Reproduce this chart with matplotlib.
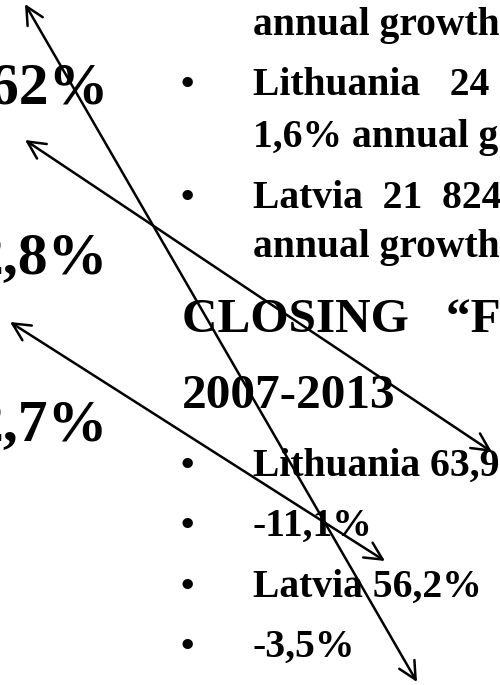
import matplotlib.pyplot as plt

# big figures on the left (cut off by the slide crop)
left_values = ["62%", "2,8%", "2,7%"]
left_baselines = [103, 273, 440]

# right column: text, baseline, has bullet, style
right_lines = [
    "annual growth",
    "Lithuania   24",
    "1,6% annual g",
    "Latvia  21  824",
    "annual growth",
    "CLOSING   \u201cF",
    "2007-2013",
    "Lithuania 63,9",
    "-11,1%",
    "Latvia 56,2%",
    "-3,5%",
]
right_baselines = [35, 95, 147, 208, 257, 332, 408, 476, 536, 597, 657]
right_bullets = [False, True, False, True, False, False, False, True, True, True, True]
right_heading = [False, False, False, False, False, True, True, False, False, False, False]

# double-headed arrows drawn over the slide (x0, y0, x1, y1)
arrows = [
    (25, 4, 417, 682),
    (25, 140, 492, 452),
    (10, 322, 385, 561),
]

FONT = ['Liberation Serif', 'DejaVu Serif']

fig = plt.figure(figsize=(5, 6.85), dpi=100)
ax = fig.add_axes([0, 0, 1, 1])
ax.set_xlim(0, 500)
ax.set_ylim(685, 0)
ax.axis('off')

for txt, yb in zip(left_values, left_baselines):
    ax.text(108, yb, txt, ha='right', va='baseline', fontsize=43,
            fontweight='bold', family=FONT, clip_on=True)

for txt, yb, bul, head in zip(right_lines, right_baselines, right_bullets, right_heading):
    if head:
        ax.text(182, yb, txt, ha='left', va='baseline', fontsize=35.5,
                fontweight='bold', family=FONT, clip_on=True)
    else:
        ax.text(253, yb, txt, ha='left', va='baseline', fontsize=28.5,
                fontweight='bold', family=FONT, clip_on=True)
    if bul:
        ax.text(187, yb, "\u2022", ha='center', va='baseline', fontsize=27.5,
                fontweight='bold', family=FONT)

for x0, y0, x1, y1 in arrows:
    ax.annotate("", xy=(x1, y1), xytext=(x0, y0),
                arrowprops=dict(arrowstyle='<->, head_length=0.9, head_width=0.45',
                                color='black', lw=1.8, mutation_scale=14,
                                shrinkA=0, shrinkB=0))

fig.savefig("out.png", dpi=100)
